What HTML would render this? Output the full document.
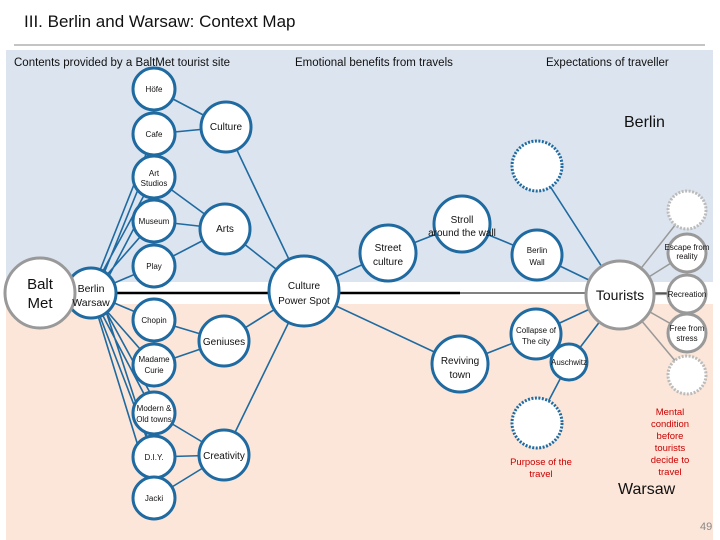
<!DOCTYPE html>
<html><head><meta charset="utf-8"><style>
html,body{margin:0;padding:0;background:#fff;}
svg{display:block;font-family:"Liberation Sans",sans-serif;}
</style></head><body>
<svg width="720" height="540" viewBox="0 0 720 540" xmlns="http://www.w3.org/2000/svg">
<text x="24" y="27" font-size="17" fill="#111">III. Berlin and Warsaw: Context Map</text>
<line x1="14" y1="45" x2="705" y2="45" stroke="#888" stroke-width="1"/>
<rect x="6" y="50" width="707" height="232" fill="#dce4ef"/>
<rect x="6" y="304" width="707" height="236" fill="#fbe6d9"/>
<text x="14" y="66" font-size="11.5" fill="#111">Contents provided by a BaltMet tourist site</text>
<text x="295" y="66" font-size="11.5" fill="#111">Emotional benefits from travels</text>
<text x="546" y="66" font-size="11.5" fill="#111">Expectations of traveller</text>
<text x="624" y="127" font-size="16" fill="#111">Berlin</text>
<text x="618" y="494" font-size="16" fill="#111">Warsaw</text>
<text x="700" y="530" font-size="11" fill="#888">49</text>
<g fill="#c00" font-size="9.5" text-anchor="middle">
<text x="541" y="465">Purpose of the</text><text x="541" y="477">travel</text>
<text x="670" y="415">Mental</text><text x="670" y="427">condition</text><text x="670" y="439">before</text><text x="670" y="451">tourists</text><text x="670" y="463">decide to</text><text x="670" y="475">travel</text>
</g>
<line x1="116" y1="293" x2="460" y2="293" stroke="#000" stroke-width="2.5"/>
<line x1="460" y1="293" x2="700" y2="293" stroke="#000" stroke-width="1"/>
<g stroke="#1f6aa0" stroke-width="1.6" fill="none">
<path d="M154 89L226 127M154 134L226 127M226 127L304 291"/>
<path d="M154 177L225 229M154 221L225 229M154 266L225 229M225 229L304 291"/>
<path d="M91 293L154 134M91 293L154 177M91 293L154 221M91 293L154 266M96 293L154 150M100 293L154 190"/>
<path d="M91 293L154 320M91 293L154 365M91 293L154 413M91 293L154 457M91 293L154 498M96 293L154 400M100 293L148 440"/>
<path d="M154 320L224 341M154 365L224 341M224 341L304 291"/>
<path d="M154 413L224 455M154 457L224 455M154 498L224 455M224 455L304 291"/>
<path d="M304 291L388 253M388 253L462 224M462 224L537 255M537 255L620 295M537 166L620 295"/>
<path d="M304 291L460 364M460 364L536 334M536 334L620 295M569 362L620 295M569 362L537 423"/>
</g>
<g stroke="#999" stroke-width="1.5">
<path d="M620 295L687 210M620 295L687 253M620 295L687 294M620 295L687 333M620 295L687 375"/>
</g>
<g fill="#fff" stroke="#1f6aa0" stroke-width="3">
<circle cx="91" cy="293" r="25"/>
<circle cx="154" cy="89" r="21"/><circle cx="154" cy="134" r="21"/><circle cx="154" cy="177" r="21"/>
<circle cx="154" cy="221" r="21"/><circle cx="154" cy="266" r="21"/>
<circle cx="154" cy="320" r="21"/><circle cx="154" cy="365" r="21"/><circle cx="154" cy="413" r="21"/>
<circle cx="154" cy="457" r="21"/><circle cx="154" cy="498" r="21"/>
<circle cx="226" cy="127" r="25"/><circle cx="225" cy="229" r="25"/>
<circle cx="224" cy="341" r="25"/><circle cx="224" cy="455" r="25"/>
<circle cx="304" cy="291" r="35"/>
<circle cx="388" cy="253" r="28"/><circle cx="462" cy="224" r="28"/><circle cx="537" cy="255" r="25"/>
<circle cx="460" cy="364" r="28"/><circle cx="536" cy="334" r="25"/><circle cx="569" cy="362" r="18"/>
</g>
<g fill="#fff" stroke="#1f6aa0" stroke-width="3" stroke-dasharray="2 1.5">
<circle cx="537" cy="166" r="25"/><circle cx="537" cy="423" r="25"/>
</g>
<g fill="#fff" stroke="#999" stroke-width="3">
<circle cx="40" cy="293" r="35"/>
<circle cx="620" cy="295" r="34"/>
<circle cx="687" cy="253" r="19"/><circle cx="687" cy="294" r="19"/><circle cx="687" cy="333" r="19"/>
</g>
<g fill="#fff" stroke="#bbb" stroke-width="3" stroke-dasharray="2 1.5">
<circle cx="687" cy="210" r="19"/><circle cx="687" cy="375" r="19"/>
</g>
<g fill="#111" text-anchor="middle">
<text x="40" y="289" font-size="15">Balt</text><text x="40" y="308" font-size="15">Met</text>
<text x="91" y="292" font-size="10.5">Berlin</text><text x="91" y="306" font-size="10.5">Warsaw</text>
<g font-size="8">
<text x="154" y="92">Höfe</text><text x="154" y="137">Cafe</text>
<text x="154" y="176">Art</text><text x="154" y="186">Studios</text>
<text x="154" y="224">Museum</text><text x="154" y="269">Play</text>
<text x="154" y="323">Chopin</text>
<text x="154" y="362">Madame</text><text x="154" y="373">Curie</text>
<text x="154" y="411">Modern &amp;</text><text x="154" y="422">Old towns</text>
<text x="154" y="460">D.I.Y.</text><text x="154" y="501">Jacki</text>
<text x="537" y="253">Berlin</text><text x="537" y="265">Wall</text>
<text x="536" y="333">Collapse of</text><text x="536" y="344">The city</text>
<text x="569" y="365">Auschwitz</text>
<text x="687" y="250">Escape from</text><text x="687" y="259">reality</text>
<text x="687" y="297">Recreation</text>
<text x="687" y="331">Free from</text><text x="687" y="341">stress</text>
</g>
<g font-size="10">
<text x="226" y="130">Culture</text><text x="225" y="232">Arts</text>
<text x="224" y="345">Geniuses</text><text x="224" y="459">Creativity</text>
<text x="304" y="289">Culture</text><text x="304" y="304">Power Spot</text>
<text x="388" y="251">Street</text><text x="388" y="265">culture</text>
<text x="462" y="223">Stroll</text><text x="462" y="236">around the wall</text>
<text x="460" y="364">Reviving</text><text x="460" y="378">town</text>
</g>
<text x="620" y="300" font-size="14">Tourists</text>
</g>
</svg>
</body></html>
